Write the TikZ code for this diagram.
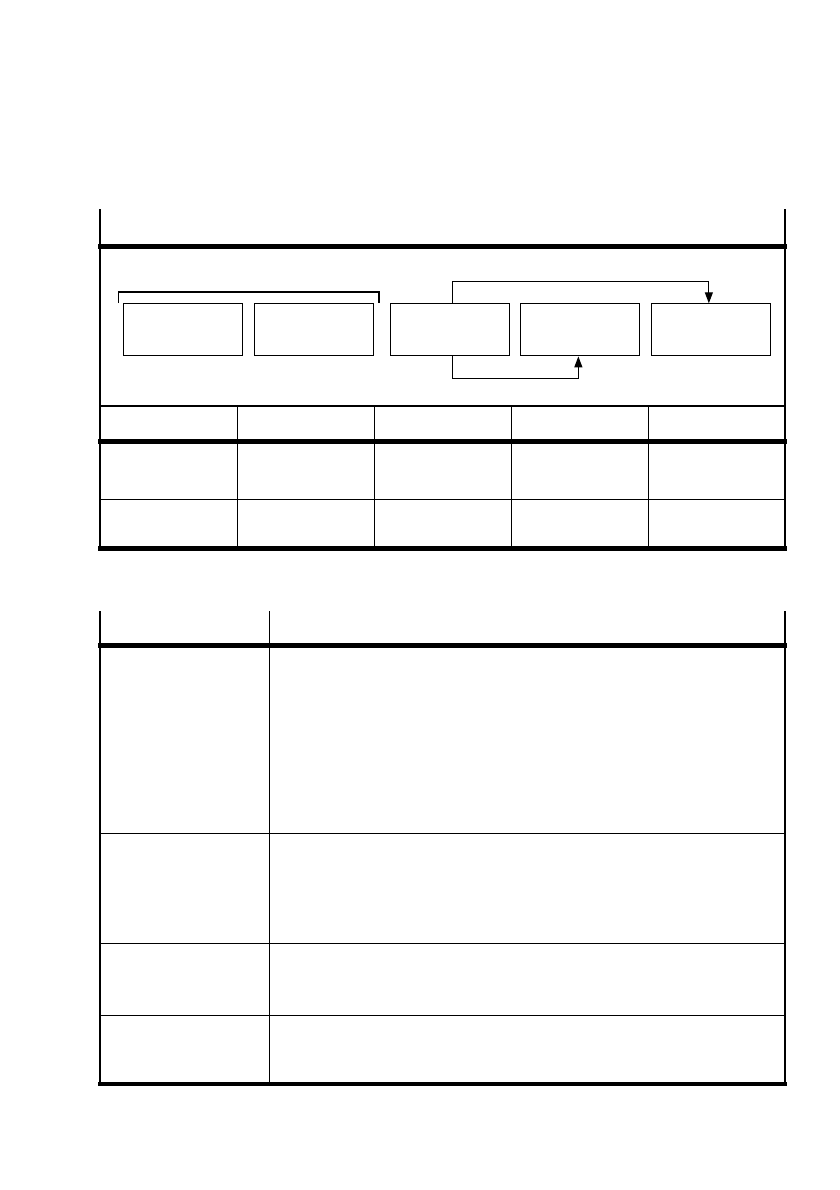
\documentclass[tikz,border=0pt]{standalone}
\usetikzlibrary{arrows.meta}
\begin{document}
\begin{tikzpicture}[x=1pt,y=-1pt,
  thin line/.style={line width=1.1pt,line cap=rect},
  thick rule/.style={line width=4.6pt},
  box/.style={draw,line width=1.1pt,minimum width=119pt,minimum height=52pt,inner sep=0pt,anchor=north west},
  arr/.style={line width=1.1pt,-{Triangle[length=11pt,width=8pt]}}]
\useasboundingbox (0,0) rectangle (839,1190);
% ---------- upper table ----------
\draw[thin line] (100,210) -- (100,549);
\draw[thin line] (785,210) -- (785,549);
\draw[thick rule] (98,246.5) -- (787,246.5);
% boxes
\node[box] (b1) at (123.3,303.3) {};
\node[box] (b2) at (254.3,303.3) {};
\node[box] (b3) at (390.3,303.3) {};
\node[box] (b4) at (520.3,303.3) {};
\node[box] (b5) at (651.3,303.3) {};
% bracket over first two boxes
\draw[thin line,line cap=butt] (118.3,303) -- (118.3,292) -- (379,292) -- (379,303);
% connectors
\draw[arr] ([xshift=2.5pt]b3.north) -- ++(0,-21.6) -| ([xshift=-2.5pt]b5.north);
\draw[arr] ([xshift=2.5pt]b3.south) -- ++(0,21.7) -| ([xshift=-2pt]b4.south);
% table grid
\draw[thin line] (100,406) -- (785,406);
\draw[thick rule] (98,441.5) -- (787,441.5);
\draw[thin line] (100,499.3) -- (785,499.3);
\draw[thick rule] (98,548.7) -- (787,548.7);
\foreach \x in {237.3,374.3,511.3,648.7}
  \draw[thin line] (\x,406) -- (\x,548);
% ---------- lower table ----------
\draw[thin line] (100,612) -- (100,1083);
\draw[thin line] (269.3,612) -- (269.3,1083);
\draw[thin line] (785,612) -- (785,1083);
\draw[thick rule] (98,645.5) -- (787,645.5);
\foreach \y in {833.3,943.3,1015.3}
  \draw[thin line] (100,\y) -- (785,\y);
\draw[thick rule] (98,1084) -- (787,1084);
\end{tikzpicture}
\end{document}
